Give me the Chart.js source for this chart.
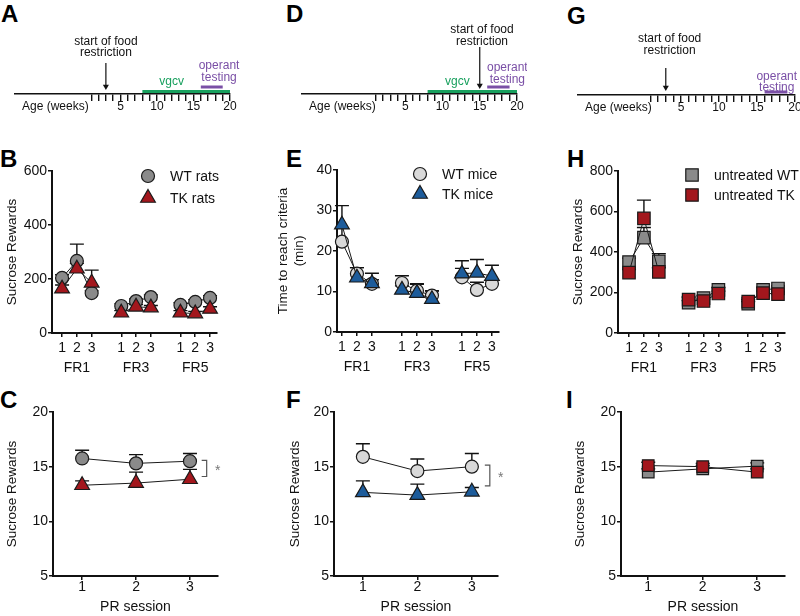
<!DOCTYPE html>
<html>
<head>
<meta charset="utf-8">
<script src="https://cdn.jsdelivr.net/npm/chart.js@4.4.1/dist/chart.umd.min.js"></script>
<style>
html, body { margin: 0; padding: 0; background: #fff; }
#fig { position: relative; width: 800px; height: 616px; overflow: hidden; }
.lbl { position: absolute; font: bold 24px 'Liberation Sans', Arial, sans-serif; line-height: 24px; color: #000; }
</style>
</head>
<body>
<div id="fig">
  <div class="lbl" style="left:1px;top:2px">A</div>
  <div class="lbl" style="left:286px;top:2px">D</div>
  <div class="lbl" style="left:567px;top:4px">G</div>
  <div class="lbl" style="left:0px;top:147px">B</div>
  <div class="lbl" style="left:286px;top:147px">E</div>
  <div class="lbl" style="left:567px;top:147px">H</div>
  <div class="lbl" style="left:0px;top:388px">C</div>
  <div class="lbl" style="left:286px;top:388px">F</div>
  <div class="lbl" style="left:566px;top:388px">I</div>
</div>
<script>
// timelines (age in weeks)
const ageTicks = [1, 2, 3, 4, 5, 6, 7, 8, 9, 10, 11, 12, 13, 14, 15, 16, 17, 18, 19, 20];
const restrictionWeekRats = 3;
const restrictionWeekMice = 15;
const restrictionWeekUntreated = 3;
const vgcvWeeks = [8, 20];
const operantWeeks = [16, 19];

// FR sessions: three groups of three sessions
const frPositions = [1, 2, 3, 5, 6, 7, 9, 10, 11];
const frSessionLabels = ['1', '2', '3', '1', '2', '3', '1', '2', '3'];
const frGroupLabels = ['FR1', 'FR3', 'FR5'];
const prSessions = [1, 2, 3];

// B - rats
const wtRatsFR = [204, 267, 148, 100, 118, 133, 104, 115, 130];
const wtRatsFRSem = [12, 62, 8, 8, 8, 8, 8, 8, 8];
const tkRatsFR = [164, 238, 186, 75, 97, 94, 75, 72, 89];
const tkRatsFRSem = [14, 20, 47, 8, 8, 8, 8, 8, 8];

// E - mice
const wtMiceFR = [22.3, 14.4, 11.9, 12.1, 10.2, 9.0, 13.5, 10.4, 11.9];
const wtMiceFRSem = [3.4, 1.5, 1.0, 1.8, 1.6, 1.1, 2.2, 1.9, 1.0];
const tkMiceFR = [26.5, 13.4, 12.0, 10.4, 9.6, 8.1, 14.4, 14.6, 13.8];
const tkMiceFRSem = [4.7, 2.5, 2.5, 1.0, 2.3, 2.1, 3.2, 3.3, 2.7];

// H - untreated
const wtUntreatedFR = [350, 471, 354, 150, 172, 213, 145, 213, 220];
const wtUntreatedFRSem = [20, 50, 38, 10, 12, 12, 10, 12, 12];
const tkUntreatedFR = [298, 566, 302, 165, 158, 195, 155, 197, 192];
const tkUntreatedFRSem = [15, 90, 20, 12, 10, 12, 10, 10, 12];

// C, F, I - PR
const wtRatsPR = [15.75, 15.3, 15.5];
const wtRatsPRSem = [0.75, 0.8, 0.7];
const tkRatsPR = [13.3, 13.5, 13.85];
const tkRatsPRSem = [0.4, 1.0, 0.9];

const wtMicePR = [15.9, 14.6, 15.0];
const wtMicePRSem = [1.2, 1.1, 1.2];
const tkMicePR = [12.65, 12.4, 12.7];
const tkMicePRSem = [1.05, 1.0, 0.4];

const wtUntreatedPR = [14.5, 14.8, 15.05];
const wtUntreatedPRSem = [0.3, 0.3, 0.3];
const tkUntreatedPR = [15.1, 15.0, 14.5];
const tkUntreatedPRSem = [0.3, 0.3, 0.3];

const FONT = "'Liberation Sans', Arial, Helvetica, sans-serif";
Chart.defaults.font.family = FONT;
Chart.defaults.color = '#111';

const GREEN = '#18a05e';
const PURPLE = '#7a4fa6';
const GREY = '#8a8a8a';
const LIGHT = '#d9d9d9';
const RED = '#a3171d';
const BLUE = '#1d5c9b';

const fig = document.getElementById('fig');

function makeCanvas(area, m) {
    const left = area.left - m.yw;
    const top = area.top - m.pt;
    const w = area.right + m.pr - left;
    const h = area.bottom + m.xh - top;
    const c = document.createElement('canvas');
    c.width = w;
    c.height = h;
    c.style.cssText = `position:absolute;left:${left}px;top:${top}px;width:${w}px;height:${h}px`;
    fig.appendChild(c);
    return c;
}

function shape(ctx, style, x, y, r) {
    ctx.beginPath();
    if (style === 'circle') {
        ctx.arc(x, y, r, 0, Math.PI * 2);
    } else if (style === 'triangle') {
        ctx.moveTo(x, y - r);
        ctx.lineTo(x + r * Math.sin(2 * Math.PI / 3), y - r * Math.cos(2 * Math.PI / 3));
        ctx.lineTo(x + r * Math.sin(4 * Math.PI / 3), y - r * Math.cos(4 * Math.PI / 3));
    } else {
        const s = r * Math.SQRT1_2;
        ctx.rect(x - s, y - s, 2 * s, 2 * s);
    }
    ctx.closePath();
    ctx.fill();
    ctx.stroke();
}

// upper error bars, drawn behind the markers
const errorBars = {
    id: 'errorBars',
    beforeDatasetsDraw(chart) {
        const ctx = chart.ctx;
        const yScale = chart.scales.y;
        chart.data.datasets.forEach((ds, i) => {
            if (!ds.sem) return;
            const meta = chart.getDatasetMeta(i);
            ctx.save();
            ctx.strokeStyle = '#111';
            ctx.lineWidth = 1.4;
            meta.data.forEach((pt, j) => {
                const top = yScale.getPixelForValue(ds.data[j].y + ds.sem[j]);
                ctx.beginPath();
                ctx.moveTo(pt.x, pt.y);
                ctx.lineTo(pt.x, top);
                ctx.moveTo(pt.x - 7, top);
                ctx.lineTo(pt.x + 7, top);
                ctx.stroke();
            });
            ctx.restore();
        });
    }
};

function legendPlugin(x, y, gap) {
    return {
        id: 'boxLegend',
        afterDraw(chart) {
            const ctx = chart.ctx;
            const ox = x - chart.canvas.offsetLeft;
            const oy = y - chart.canvas.offsetTop;
            ctx.save();
            chart.data.datasets.forEach((ds, i) => {
                const yy = oy + i * gap;
                ctx.fillStyle = ds.pointBackgroundColor;
                ctx.strokeStyle = '#1a1a1a';
                ctx.lineWidth = 1.2;
                shape(ctx, ds.pointStyle, ox, yy, ds.pointRadius);
                ctx.fillStyle = '#111';
                ctx.font = '14px ' + FONT;
                ctx.textAlign = 'left';
                ctx.textBaseline = 'middle';
                ctx.fillText(ds.label, ox + 22, yy + 1);
            });
            ctx.restore();
        }
    };
}

function bracketPlugin(xv, y0, y1) {
    return {
        id: 'bracket',
        afterDraw(chart) {
            const ctx = chart.ctx;
            const x = chart.scales.x.getPixelForValue(xv);
            const top = chart.scales.y.getPixelForValue(y1);
            const bot = chart.scales.y.getPixelForValue(y0);
            ctx.save();
            ctx.strokeStyle = '#555';
            ctx.lineWidth = 1.2;
            ctx.beginPath();
            ctx.moveTo(x - 5, top);
            ctx.lineTo(x, top);
            ctx.lineTo(x, bot);
            ctx.lineTo(x - 5, bot);
            ctx.stroke();
            ctx.fillStyle = '#777';
            ctx.font = '14px ' + FONT;
            ctx.textAlign = 'center';
            ctx.textBaseline = 'middle';
            ctx.fillText('*', x + 11, (top + bot) / 2 + 3);
            ctx.restore();
        }
    };
}

function notesPlugin(notes) {
    return {
        id: 'notes',
        afterDraw(chart) {
            const ctx = chart.ctx;
            const a = chart.chartArea;
            ctx.save();
            ctx.font = '12px ' + FONT;
            ctx.textBaseline = 'middle';
            ctx.textAlign = 'left';
            ctx.fillStyle = '#111';
            ctx.fillText('Age (weeks)', a.left + 7, a.bottom + 13);
            ctx.textAlign = 'center';
            notes.forEach(n => {
                ctx.fillStyle = n.color;
                ctx.fillText(n.text, chart.scales.x.getPixelForValue(n.week), chart.scales.y.getPixelForValue(n.level));
            });
            ctx.restore();
        }
    };
}

const baseOptions = m => ({
    responsive: false,
    animation: false,
    devicePixelRatio: 1,
    events: [],
    layout: { padding: { top: m.pt, right: m.pr, left: 0, bottom: 0 } },
    plugins: { legend: { display: false }, tooltip: { enabled: false } }
});

function yAxis(m, min, max, step, title) {
    return {
        min, max,
        ticks: { stepSize: step, padding: 1, font: { size: 14 } },
        grid: { drawOnChartArea: false, tickLength: 4, color: '#111', lineWidth: 1.5 },
        border: { color: '#111', width: 2 },
        title: { display: true, text: title, font: { size: 13.5 }, padding: { top: m.tpad, bottom: 0 } },
        afterFit: s => { s.width = m.yw; }
    };
}

function series(label, xs, values, sem, shapeName, r, color, order) {
    return {
        label,
        data: xs.map((x, i) => ({ x, y: values[i] })),
        sem,
        borderColor: '#1a1a1a',
        borderWidth: 1,
        pointStyle: shapeName,
        pointRadius: r,
        pointBackgroundColor: color,
        pointBorderColor: '#1a1a1a',
        pointBorderWidth: 1.2,
        order,
        clip: false,
        segment: {
            borderColor: c => (c.p1.parsed.x - c.p0.parsed.x > 1.5 ? 'rgba(0,0,0,0)' : undefined)
        }
    };
}

function frPanel(area, m, yCfg, datasets, legendAt) {
    const opts = baseOptions(m);
    opts.scales = {
        x: {
            type: 'linear', min: m.xmin, max: 11.47,
            afterBuildTicks: s => { s.ticks = frPositions.map(v => ({ value: v })); },
            afterFit: s => { s.height = m.xh; },
            ticks: {
                autoSkip: false, maxRotation: 0, padding: 1,
                font: { size: 14, lineHeight: 1.45 },
                callback: v => {
                    const i = frPositions.indexOf(v);
                    return i % 3 === 1 ? [frSessionLabels[i], frGroupLabels[(i - 1) / 3]] : frSessionLabels[i];
                }
            },
            grid: { drawOnChartArea: false, tickLength: 4, color: '#111', lineWidth: 1.5 },
            border: { color: '#111', width: 2 }
        },
        y: yAxis(m, yCfg[0], yCfg[1], yCfg[2], yCfg[3])
    };
    return new Chart(makeCanvas(area, m), {
        type: 'line',
        data: { datasets },
        options: opts,
        plugins: [errorBars, legendPlugin(legendAt[0], legendAt[1], legendAt[2])]
    });
}

function prPanel(area, m, datasets, extra) {
    const opts = baseOptions(m);
    opts.scales = {
        x: {
            type: 'linear', min: m.xmin, max: m.xmax,
            afterBuildTicks: s => { s.ticks = prSessions.map(v => ({ value: v })); },
            afterFit: s => { s.height = m.xh; },
            ticks: { autoSkip: false, maxRotation: 0, padding: 0, font: { size: 14, lineHeight: 1 } },
            grid: { drawOnChartArea: false, tickLength: 4, color: '#111', lineWidth: 1.5 },
            border: { color: '#111', width: 2 },
            title: { display: true, text: 'PR session', font: { size: 14 }, padding: { top: 0, bottom: 0 } }
        },
        y: yAxis(m, 5, 20, 5, 'Sucrose Rewards')
    };
    return new Chart(makeCanvas(area, m), {
        type: 'line',
        data: { datasets },
        options: opts,
        plugins: [errorBars].concat(extra)
    });
}

function timelinePanel(area, m, restrictionWeek, showVgcv, operantLevel, notes) {
    const datasets = [];
    if (showVgcv) {
        datasets.push({
            data: vgcvWeeks.map(w => ({ x: w, y: 2.5 })),
            borderColor: GREEN, borderWidth: 3, pointRadius: 0, clip: false
        });
    }
    datasets.push({
        data: operantWeeks.map(w => ({ x: w, y: operantLevel })),
        borderColor: PURPLE, borderWidth: 3, pointRadius: 0, clip: false
    });
    datasets.push({
        data: [{ x: restrictionWeek, y: m.arrowTop }, { x: restrictionWeek, y: m.arrowTip + 3.5 }],
        borderColor: '#111', borderWidth: 1.2,
        pointRadius: [0, 3.5], pointStyle: 'triangle', rotation: 180,
        pointBackgroundColor: '#111', pointBorderWidth: 0, clip: false
    });
    return new Chart(makeCanvas(area, m), {
        type: 'line',
        data: { datasets },
        options: {
            responsive: false,
            animation: false,
            devicePixelRatio: 1,
            events: [],
            layout: { padding: { top: m.pt, right: m.pr, left: m.yw, bottom: 0 } },
            plugins: { legend: { display: false }, tooltip: { enabled: false } },
            scales: {
                x: {
                    type: 'linear', min: m.xmin, max: 20,
                    afterBuildTicks: s => { s.ticks = ageTicks.map(v => ({ value: v })); },
                    afterFit: s => { s.height = m.xh; },
                    ticks: {
                        autoSkip: false, maxRotation: 0, padding: 0,
                        font: { size: 12, lineHeight: 1 },
                        callback: v => (v % 5 === 0 ? String(v) : '')
                    },
                    grid: { drawOnChartArea: false, tickLength: 7, color: '#111', lineWidth: 1.4 },
                    border: { color: '#111', width: 1.5 }
                },
                y: { display: false, min: 0, max: area.bottom - area.top }
            }
        },
        plugins: [notesPlugin(notes)]
    });
}

// ---- A, D, G ----
timelinePanel({ left: 15, right: 230, top: 20, bottom: 94 },
    { yw: 15, pt: 20, pr: 10, xh: 23, xmin: -9.45, arrowTop: 31, arrowTip: 4 },
    restrictionWeekRats, true, 7, [
        { text: 'start of food', week: 3, level: 52, color: '#111' },
        { text: 'restriction', week: 3, level: 41, color: '#111' },
        { text: 'vgcv', week: 12, level: 12, color: GREEN },
        { text: 'operant', week: 18.5, level: 28, color: PURPLE },
        { text: 'testing', week: 18.5, level: 16, color: PURPLE }
    ]);

timelinePanel({ left: 302, right: 517, top: 20, bottom: 94 },
    { yw: 12, pt: 20, pr: 10, xh: 23, xmin: -8.86, arrowTop: 47, arrowTip: 5 },
    restrictionWeekMice, true, 7, [
        { text: 'start of food', week: 15.3, level: 64, color: '#111' },
        { text: 'restriction', week: 15.3, level: 52, color: '#111' },
        { text: 'vgcv', week: 12, level: 12, color: GREEN },
        { text: 'operant', week: 18.7, level: 26, color: PURPLE },
        { text: 'testing', week: 18.7, level: 14, color: PURPLE }
    ]);

timelinePanel({ left: 578, right: 795, top: 20, bottom: 95 },
    { yw: 10, pt: 20, pr: 7, xh: 21, xmin: -8.55, arrowTop: 27, arrowTip: 4 },
    restrictionWeekUntreated, false, 3, [
        { text: 'start of food', week: 3.5, level: 56, color: '#111' },
        { text: 'restriction', week: 3.5, level: 44, color: '#111' },
        { text: 'operant', week: 17.6, level: 18, color: PURPLE },
        { text: 'testing', week: 17.6, level: 7, color: PURPLE }
    ]);

// ---- B, E, H ----
frPanel({ left: 52, right: 217, top: 171, bottom: 333 },
    { yw: 52, pt: 10, pr: 12, xh: 45, tpad: 4, xmin: 0.32 },
    [0, 600, 200, 'Sucrose Rewards'],
    [
        series('WT rats', frPositions, wtRatsFR, wtRatsFRSem, 'circle', 6.5, GREY, 2),
        series('TK rats', frPositions, tkRatsFR, tkRatsFRSem, 'triangle', 8.5, RED, 1)
    ], [148, 176, 22]);

frPanel({ left: 337, right: 499, top: 170, bottom: 332 },
    { yw: 67, pt: 10, pr: 12, xh: 45, tpad: 5, xmin: 0.67 },
    [0, 40, 10, ['Time to reach criteria', '(min)']],
    [
        series('WT mice', frPositions, wtMiceFR, wtMiceFRSem, 'circle', 6.5, LIGHT, 2),
        series('TK mice', frPositions, tkMiceFR, tkMiceFRSem, 'triangle', 8.5, BLUE, 1)
    ], [420, 174, 20]);

frPanel({ left: 618, right: 785, top: 171, bottom: 333 },
    { yw: 55, pt: 10, pr: 15, xh: 45, tpad: 7, xmin: 0.26 },
    [0, 800, 200, 'Sucrose Rewards'],
    [
        series('untreated WT', frPositions, wtUntreatedFR, wtUntreatedFRSem, 'rect', 8.8, GREY, 2),
        series('untreated TK', frPositions, tkUntreatedFR, tkUntreatedFRSem, 'rect', 8.8, RED, 1)
    ], [692, 175, 20]);

// ---- C, F, I ----
prPanel({ left: 53, right: 218, top: 412, bottom: 576 },
    { yw: 53, pt: 10, pr: 12, xh: 40, tpad: 4, xmin: 0.46, xmax: 3.52 },
    [
        series('WT rats', prSessions, wtRatsPR, wtRatsPRSem, 'circle', 6.5, GREY, 2),
        series('TK rats', prSessions, tkRatsPR, tkRatsPRSem, 'triangle', 8.5, RED, 1)
    ], [bracketPlugin(3.31, 14.1, 15.58)]);

prPanel({ left: 334, right: 498, top: 412, bottom: 576 },
    { yw: 54, pt: 10, pr: 12, xh: 40, tpad: 7, xmin: 0.47, xmax: 3.48 },
    [
        series('WT mice', prSessions, wtMicePR, wtMicePRSem, 'circle', 6.5, LIGHT, 2),
        series('TK mice', prSessions, tkMicePR, tkMicePRSem, 'triangle', 8.5, BLUE, 1)
    ], [bracketPlugin(3.33, 13.24, 15.14)]);

prPanel({ left: 621, right: 785, top: 412, bottom: 576 },
    { yw: 56, pt: 10, pr: 15, xh: 40, tpad: 7, xmin: 0.5, xmax: 3.51 },
    [
        series('untreated WT', prSessions, wtUntreatedPR, wtUntreatedPRSem, 'rect', 8.2, GREY, 2),
        series('untreated TK', prSessions, tkUntreatedPR, tkUntreatedPRSem, 'rect', 8.2, RED, 1)
    ], []);
</script>
</body>
</html>
